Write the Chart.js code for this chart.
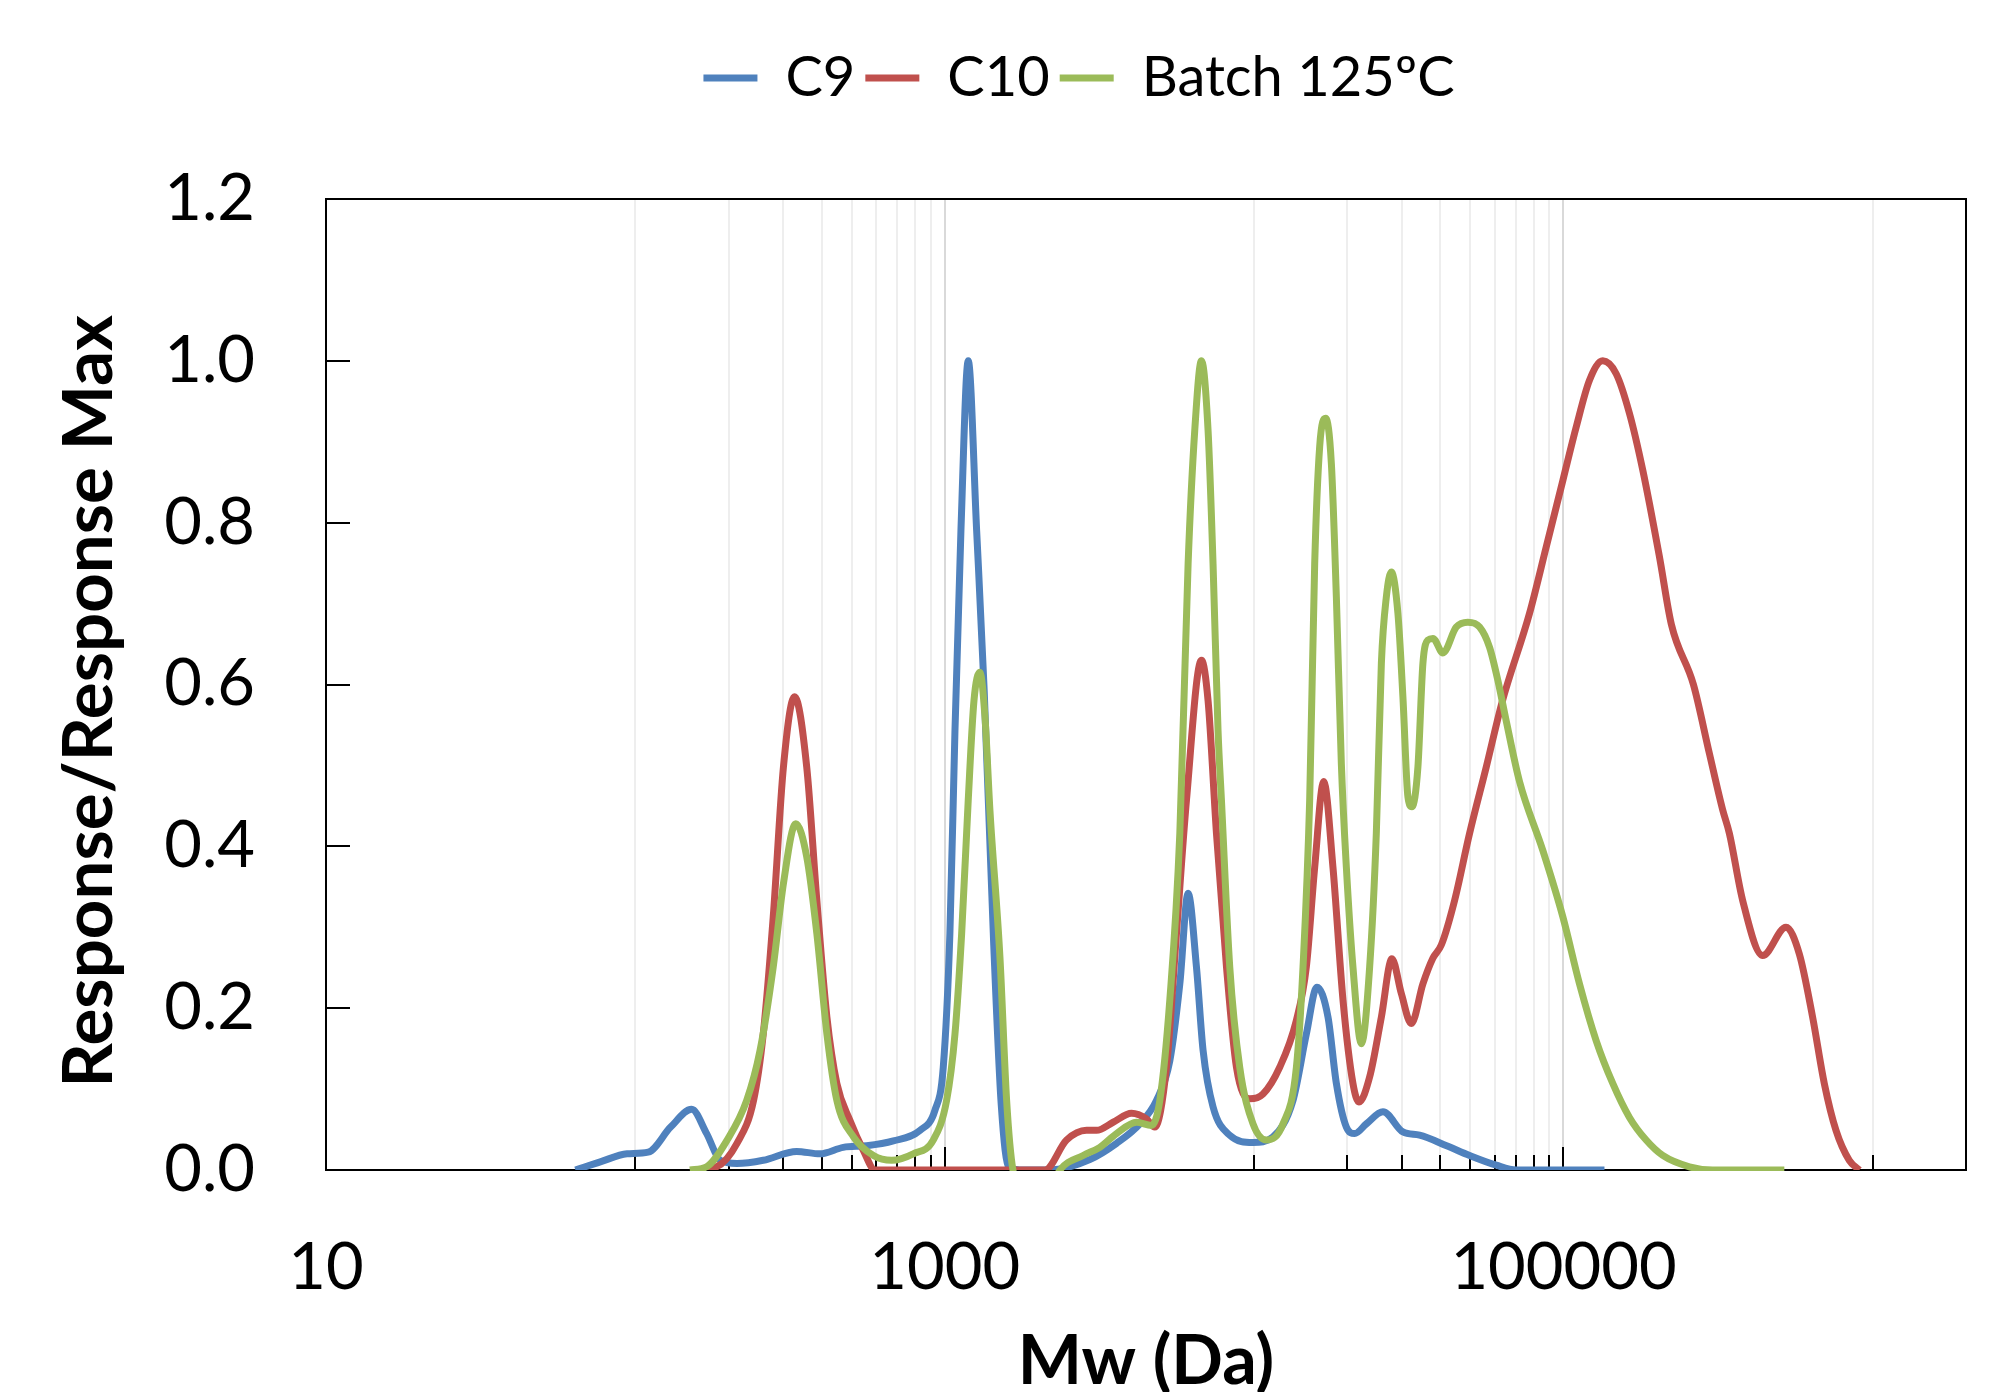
<!DOCTYPE html>
<html>
<head>
<meta charset="utf-8">
<title>Mw distribution</title>
<script src="https://cdn.jsdelivr.net/npm/chart.js@4.4.1/dist/chart.umd.min.js"></script>
<style>
  html, body { margin: 0; padding: 0; background: #fff; }
  #wrap { width: 2002px; height: 1392px; }
</style>
</head>
<body>
<div id="wrap"><canvas id="mwChart" width="2002" height="1392"></canvas></div>
<script>
// ── DATA ──────────────────────────────────────────────────────────────────────
const seriesNames  = ['C9', 'C10', 'Batch 125ºC'];
const seriesColors = ['#4F81BD', '#C0504D', '#9BBB59'];

const c9Mw   = [64, 77, 94, 110, 130, 152, 170, 188, 213, 259, 332, 395, 470, 559, 682, 832, 930, 989, 1039, 1079,
                1128, 1191, 1268, 1341, 1440, 1523, 1612, 1800, 2187, 2944, 3592, 4271, 4835, 5339, 5752, 6118, 6510, 6838, 7366, 8341,
                9919, 11508, 13355, 14751, 15965, 17332, 18443, 19868, 21131, 23053, 26089, 30262, 34262, 41904, 49709, 60620, 70355, 135660];
const c9Resp = [0, 0.010, 0.020, 0.022, 0.053, 0.075, 0.045, 0.012, 0.008, 0.012, 0.023, 0.020, 0.028, 0.030, 0.036, 0.049, 0.074, 0.127, 0.292, 0.543,
                0.790, 1.000, 0.790, 0.593, 0.278, 0.080, 0.003, 0, 0, 0.013, 0.033, 0.057, 0.086, 0.135, 0.230, 0.342, 0.251, 0.148, 0.078, 0.043,
                0.034, 0.041, 0.086, 0.168, 0.226, 0.189, 0.107, 0.053, 0.045, 0.057, 0.072, 0.047, 0.043, 0.030, 0.018, 0.006, 0, 0];

const c10Mw   = [156, 183, 213, 241, 259, 279, 301, 327, 358, 386, 416, 448, 494, 546, 595, 1200, 2107, 2476, 2873, 3095,
                 3501, 4016, 4488, 4775, 5209, 5610, 6044, 6758, 7098, 7556, 8141, 8767, 9678, 10684, 12097, 13697, 14751, 15695, 16786, 17982,
                 19377, 20865, 21821, 23628, 25780, 27890, 29910, 32220, 35120, 37850, 40270, 44450, 49709, 56270, 63290, 77670, 87950, 99500, 109900, 121340,
                 133970, 148000, 163380, 180370, 204200, 223300, 263000, 296100, 327000, 343700, 379500, 440300, 524000, 578500, 638600, 696600, 760000, 838900, 903900];
const c10Resp = [0, 0.004, 0.033, 0.086, 0.168, 0.313, 0.498, 0.585, 0.498, 0.333, 0.189, 0.107, 0.061, 0.024, 0, 0, 0, 0.037, 0.049, 0.049,
                 0.059, 0.070, 0.063, 0.053, 0.127, 0.292, 0.457, 0.630, 0.580, 0.416, 0.251, 0.127, 0.088, 0.094, 0.127, 0.185, 0.251, 0.374, 0.480, 0.374,
                 0.210, 0.107, 0.084, 0.115, 0.189, 0.261, 0.218, 0.181, 0.230, 0.262, 0.278, 0.333, 0.416, 0.498, 0.578, 0.688, 0.770, 0.852, 0.918, 0.976,
                 1.000, 0.984, 0.935, 0.865, 0.758, 0.674, 0.600, 0.515, 0.445, 0.416, 0.333, 0.265, 0.300, 0.267, 0.189, 0.107, 0.049, 0.012, 0];

const batchMw   = [150, 170, 198, 229, 253, 279, 301, 330, 358, 386, 416, 448, 507, 588, 674, 791, 918, 1014, 1079, 1134,
                   1191, 1243, 1299, 1349, 1400, 1508, 1585, 1661, 1816, 2154, 2356, 2802, 3172, 3592, 4168, 4659, 4956, 5339, 5752, 6118,
                   6428, 6758, 7098, 7366, 7645, 7841, 8341, 8984, 9919, 10960, 12400, 13697, 14390, 15120, 15695, 16290, 17030, 17770, 18443, 19140,
                   19868, 20865, 22220, 23628, 24830, 25780, 26750, 27760, 29160, 30262, 31420, 32360, 33840, 35120, 36450, 37850, 40750, 45020, 49080, 53550,
                   57680, 61360, 65300, 72100, 85730, 99500, 112650, 127500, 144300, 163380, 185000, 209300, 255300, 303500, 517400];
const batchResp = [0, 0.004, 0.037, 0.086, 0.148, 0.251, 0.354, 0.428, 0.387, 0.292, 0.168, 0.086, 0.041, 0.018, 0.012, 0.020, 0.037, 0.086, 0.168, 0.292,
                   0.457, 0.580, 0.615, 0.560, 0.444, 0.263, 0.086, 0, -0.03, -0.03, 0, 0.018, 0.028, 0.045, 0.059, 0.055, 0.086, 0.210, 0.416, 0.749,
                   0.914, 1.000, 0.914, 0.749, 0.543, 0.457, 0.251, 0.127, 0.057, 0.037, 0.057, 0.127, 0.251, 0.457, 0.749, 0.894, 0.929, 0.873, 0.708, 0.502,
                   0.374, 0.251, 0.156, 0.251, 0.416, 0.626, 0.708, 0.739, 0.688, 0.585, 0.461, 0.449, 0.498, 0.626, 0.655, 0.657, 0.639, 0.671, 0.677, 0.671,
                   0.646, 0.605, 0.555, 0.480, 0.395, 0.313, 0.230, 0.160, 0.107, 0.065, 0.037, 0.018, 0.004, 0, 0];

// x axis: ticks / gridlines, only some of them carry a label
const xTickValues  = [10, 100, 200, 300, 400, 500, 600, 700, 800, 900, 1000,
                      10000, 20000, 30000, 40000, 50000, 60000, 70000, 80000, 90000, 100000, 1000000, 2000000];
const xLabelValues = [10, 1000, 100000];
const yTickValues  = [0, 0.2, 0.4, 0.6, 0.8, 1.0, 1.2];

// ── HELPERS ───────────────────────────────────────────────────────────────────
const toPoints = (xs, ys) => xs.map((x, i) => ({ x, y: ys[i] }));
const FONT = 'Lato, "Open Sans", sans-serif';

Chart.defaults.font.family = FONT;
Chart.defaults.color = '#000';

// frame + inward tick marks (drawn under the lines, like the original)
const framePlugin = {
  id: 'frame',
  beforeDatasetsDraw(chart) {
    const { ctx, chartArea: a, scales: { x, y } } = chart;
    ctx.save();
    ctx.strokeStyle = '#000';
    ctx.lineWidth = 2;
    ctx.strokeRect(a.left, a.top, a.right - a.left, a.bottom - a.top);
    ctx.beginPath();
    xTickValues.forEach(v => {
      const px = Math.round(x.getPixelForValue(v));
      const len = xLabelValues.includes(v) ? 23 : 15;
      ctx.moveTo(px, a.bottom);
      ctx.lineTo(px, a.bottom - len);
    });
    yTickValues.forEach(v => {
      const py = Math.round(y.getPixelForValue(v));
      ctx.moveTo(a.left, py);
      ctx.lineTo(a.left + 24, py);
    });
    ctx.stroke();
    ctx.restore();
  }
};

// legend sits a bit right of the canvas centre in the original
const legendShift = {
  id: 'legendShift',
  afterUpdate(chart) {
    const lg = chart.legend;
    if (lg) { lg.left += 96; lg.right += 96; }
  }
};

// ── CHART ─────────────────────────────────────────────────────────────────────
const seriesData = [toPoints(c9Mw, c9Resp), toPoints(c10Mw, c10Resp), toPoints(batchMw, batchResp)];

new Chart(document.getElementById('mwChart'), {
  type: 'line',
  data: {
    datasets: seriesNames.map((name, i) => ({
      label: name,
      data: seriesData[i],
      borderColor: seriesColors[i],
      backgroundColor: seriesColors[i],
      borderWidth: 7,
      pointRadius: 0,
      cubicInterpolationMode: 'monotone',
      order: 3 - i,
      clip: i === 2 ? { left: false, top: false, right: false, bottom: 1 } : undefined
    }))
  },
  options: {
    responsive: false,
    animation: false,
    layout: { padding: { top: 40, left: 0, right: 36, bottom: 0 } },
    plugins: {
      legend: {
        position: 'top',
        labels: {
          usePointStyle: true,
          pointStyle: 'line',
          pointStyleWidth: 54,
          boxHeight: 6,
          padding: 10,
          font: { size: 56 },
          sort: (a, b) => a.datasetIndex - b.datasetIndex
        }
      },
      // empty title used as a spacer between legend and plot
      title: { display: true, text: '', weight: 500, font: { size: 10 }, padding: { top: 0, bottom: 71 } },
      tooltip: { enabled: false }
    },
    scales: {
      x: {
        type: 'logarithmic',
        min: 10,
        max: 2000000,
        afterBuildTicks: s => { s.ticks = xTickValues.map(v => ({ value: v })); },
        afterFit: s => { s.height = 222; },
        ticks: {
          autoSkip: false,
          maxRotation: 0,
          padding: 30,
          font: { size: 65, lineHeight: 2.08 },
          callback: v => xLabelValues.includes(v) ? String(v) : ''
        },
        grid: {
          drawTicks: false,
          lineWidth: 2,
          color: c => xLabelValues.includes(c.tick && c.tick.value) ? '#d9d9d9' : '#eeeeee'
        },
        border: { display: false },
        title: {
          display: true,
          text: 'Mw (Da)',
          padding: 0,
          font: { size: 68, weight: 'bold', lineHeight: 0.88 }
        }
      },
      y: {
        min: 0,
        max: 1.2,
        afterFit: s => { s.width = 326; },
        afterBuildTicks: s => { s.ticks = yTickValues.map(v => ({ value: v })); },
        ticks: {
          padding: 71,
          font: { size: 65 },
          callback: v => v.toFixed(1)
        },
        grid: { display: false, drawTicks: false },
        border: { display: false },
        title: {
          display: true,
          text: 'Response/Response Max  ',
          padding: { top: 48, bottom: 0 },
          font: { size: 69, weight: 'bold' }
        }
      }
    }
  },
  plugins: [framePlugin, legendShift]
});
</script>
</body>
</html>
